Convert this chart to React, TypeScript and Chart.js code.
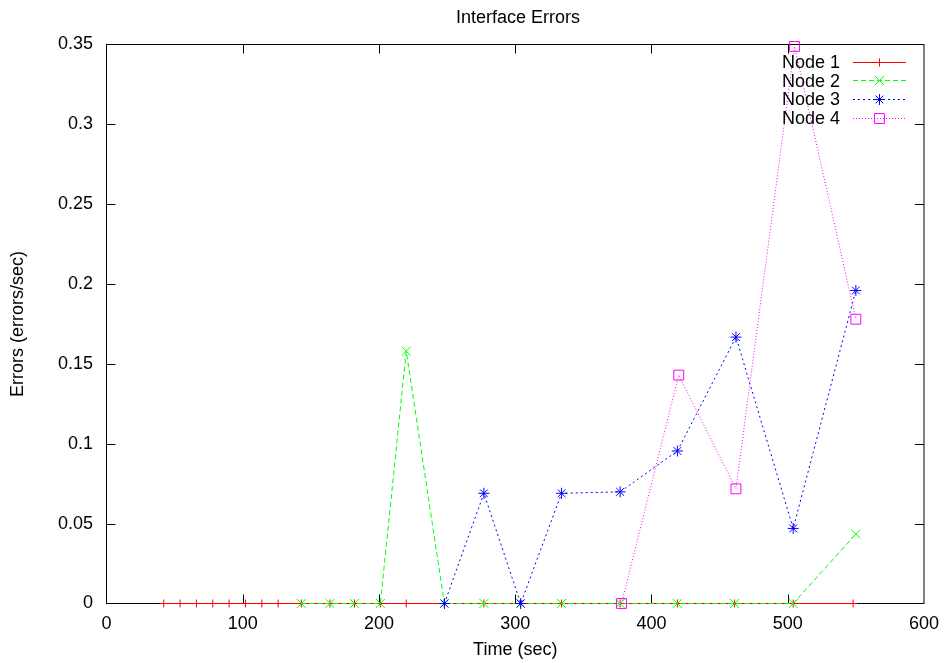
import { useEffect, useRef } from 'react';
import { Chart, registerables } from 'chart.js';

Chart.register(...registerables);

const chartTitle = 'Interface Errors';
const xAxisTitle = 'Time (sec)';
const yAxisTitle = 'Errors (errors/sec)';
const seriesNames = ['Node 1', 'Node 2', 'Node 3', 'Node 4'];

const xTickValues = [0, 100, 200, 300, 400, 500, 600];
const xTickLabels = ['0', '100', '200', '300', '400', '500', '600'];
const yTickValues = [0, 0.05, 0.1, 0.15, 0.2, 0.25, 0.3, 0.35];
const yTickLabels = ['0', '0.05', '0.1', '0.15', '0.2', '0.25', '0.3', '0.35'];

const node1Times = [42, 54, 66, 78, 90, 102, 114, 126, 143, 164, 182, 201, 220, 248, 277, 304, 334, 377, 419, 461, 504, 548];
const node1Values = [0, 0, 0, 0, 0, 0, 0, 0, 0, 0, 0, 0, 0, 0, 0, 0, 0, 0, 0, 0, 0, 0];

const node2Times = [143, 164, 182, 201, 220, 248, 277, 304, 334, 377, 419, 461, 504, 550];
const node2Values = [0, 0, 0, 0, 0.158, 0, 0, 0, 0, 0, 0, 0, 0, 0.0435];

const node3Times = [248, 277, 304, 334, 377, 419, 462, 504, 550];
const node3Values = [0, 0.069, 0, 0.069, 0.0699, 0.0955, 0.1668, 0.047, 0.196];

const node4Times = [378, 420, 462, 505, 550];
const node4Values = [0, 0.143, 0.0718, 0.3488, 0.178];

const seriesColors = ['#ff0000', '#00ff00', '#0000ff', '#ff00ff'];
const seriesDashes: number[][] = [[], [5, 3], [2, 3], [1, 2]];
const seriesPointStyles = ['cross', 'crossRot', 'star', 'rect'];
const seriesPointRadii = [4, 6.4, 5.5, 7];

const FONT = '"Liberation Sans", Arial, Helvetica, sans-serif';

function toPoints(xs: number[], ys: number[]) {
  return xs.map((x, i) => ({ x, y: ys[i] }));
}

function drawMarker(ctx: CanvasRenderingContext2D, style: string, x: number, y: number, r: number) {
  ctx.beginPath();
  if (style === 'cross' || style === 'star') {
    ctx.moveTo(x - r, y);
    ctx.lineTo(x + r, y);
    ctx.moveTo(x, y - r);
    ctx.lineTo(x, y + r);
  }
  if (style === 'crossRot' || style === 'star') {
    const h = r * Math.SQRT1_2;
    ctx.moveTo(x - h, y - h);
    ctx.lineTo(x + h, y + h);
    ctx.moveTo(x - h, y + h);
    ctx.lineTo(x + h, y - h);
  }
  if (style === 'rect') {
    const s = r * Math.SQRT1_2;
    ctx.rect(x - s, y - s, 2 * s, 2 * s);
  }
  ctx.stroke();
}

const framePlugin = {
  id: 'gnuplotFrame',
  beforeDatasetsDraw(chart: any) {
    const { ctx, chartArea: a, scales } = chart;
    ctx.save();
    ctx.strokeStyle = '#000';
    ctx.lineWidth = 1;
    ctx.setLineDash([]);
    ctx.strokeRect(a.left, a.top, a.right - a.left, a.bottom - a.top);
    const L = 9;
    ctx.beginPath();
    xTickValues.forEach((v, i) => {
      if (i === 0 || i === xTickValues.length - 1) return;
      const px = Math.round(scales.x.getPixelForValue(v)) + 0.5;
      ctx.moveTo(px, a.bottom);
      ctx.lineTo(px, a.bottom - L);
      ctx.moveTo(px, a.top);
      ctx.lineTo(px, a.top + L);
    });
    yTickValues.forEach((v, i) => {
      if (i === 0 || i === yTickValues.length - 1) return;
      const py = Math.round(scales.y.getPixelForValue(v)) + 0.5;
      ctx.moveTo(a.left, py);
      ctx.lineTo(a.left + L, py);
      ctx.moveTo(a.right, py);
      ctx.lineTo(a.right - L, py);
    });
    ctx.stroke();
    ctx.restore();
  },
};

const titlePlugin = {
  id: 'gnuplotTitle',
  afterDraw(chart: any) {
    const { ctx } = chart;
    ctx.save();
    ctx.font = `18px ${FONT}`;
    ctx.fillStyle = '#000';
    ctx.textAlign = 'center';
    ctx.textBaseline = 'alphabetic';
    ctx.fillText(chartTitle, 518, 22.5);
    ctx.restore();
  },
};

const keyPlugin = {
  id: 'gnuplotKey',
  afterDatasetsDraw(chart: any) {
    const { ctx } = chart;
    ctx.save();
    ctx.font = `18px ${FONT}`;
    ctx.textAlign = 'right';
    ctx.textBaseline = 'alphabetic';
    seriesNames.forEach((name, i) => {
      const cy = 61.5 + i * 18.7;
      ctx.fillStyle = '#000';
      ctx.fillText(name, 840, cy + 6.4);
      ctx.strokeStyle = seriesColors[i];
      ctx.lineWidth = 1;
      ctx.setLineDash(seriesDashes[i]);
      ctx.beginPath();
      ctx.moveTo(853, Math.round(cy) + 0.5);
      ctx.lineTo(906, Math.round(cy) + 0.5);
      ctx.stroke();
      ctx.setLineDash([]);
      drawMarker(ctx, seriesPointStyles[i], 879.5, Math.round(cy) + 0.5, seriesPointRadii[i]);
    });
    ctx.restore();
  },
};

export default function App() {
  const canvasRef = useRef<HTMLCanvasElement | null>(null);

  useEffect(() => {
    document.body.style.margin = '0';
    const canvas = canvasRef.current;
    if (!canvas) return;
    const seriesData = [
      toPoints(node1Times, node1Values),
      toPoints(node2Times, node2Values),
      toPoints(node3Times, node3Values),
      toPoints(node4Times, node4Values),
    ];
    const chart = new Chart(canvas, {
      type: 'scatter',
      data: {
        datasets: seriesNames.map((name, i) => ({
          label: name,
          data: seriesData[i],
          order: seriesNames.length - i,
          showLine: true,
          borderColor: seriesColors[i],
          borderWidth: 1,
          borderDash: seriesDashes[i],
          pointStyle: seriesPointStyles[i] as any,
          pointRadius: seriesPointRadii[i],
          pointBorderColor: seriesColors[i],
          pointBackgroundColor: 'rgba(0,0,0,0)',
          pointBorderWidth: 1,
          pointHoverRadius: seriesPointRadii[i],
          clip: false as any,
          tension: 0,
        })),
      },
      options: {
        animation: false,
        responsive: false,
        events: [],
        layout: { padding: { left: 0, right: 21.5, top: 44.5, bottom: 0 } },
        plugins: {
          legend: { display: false },
          tooltip: { enabled: false },
          title: { display: false },
        },
        scales: {
          x: {
            type: 'linear',
            min: 0,
            max: 600,
            afterBuildTicks: (scale: any) => {
              scale.ticks = xTickValues.map((v) => ({ value: v }));
            },
            afterFit: (scale: any) => {
              scale.height = 59.5;
            },
            grid: { display: false, drawTicks: false },
            border: { display: false },
            ticks: {
              color: '#000',
              font: { family: FONT, size: 18 },
              padding: 10,
              maxRotation: 0,
              autoSkip: false,
              callback: (_v: any, i: number) => xTickLabels[i],
            },
            title: {
              display: true,
              text: xAxisTitle,
              color: '#000',
              font: { family: FONT, size: 18 },
              padding: { top: 0, bottom: 2 },
            },
          },
          y: {
            type: 'linear',
            min: 0,
            max: 0.35,
            afterBuildTicks: (scale: any) => {
              scale.ticks = yTickValues.map((v) => ({ value: v }));
            },
            afterFit: (scale: any) => {
              scale.width = 106.5;
            },
            grid: { display: false, drawTicks: false },
            border: { display: false },
            ticks: {
              color: '#000',
              font: { family: FONT, size: 18 },
              padding: 13.5,
              autoSkip: false,
              callback: (_v: any, i: number) => yTickLabels[i],
            },
            title: {
              display: true,
              text: yAxisTitle,
              color: '#000',
              font: { family: FONT, size: 18 },
              padding: { top: 7.7, bottom: 0 },
            },
          },
        },
      },
      plugins: [framePlugin, keyPlugin, titlePlugin],
    });
    return () => chart.destroy();
  }, []);

  return (
    <canvas
      ref={canvasRef}
      width={949}
      height={663}
      style={{ display: 'block', width: '949px', height: '663px' }}
    />
  );
}
